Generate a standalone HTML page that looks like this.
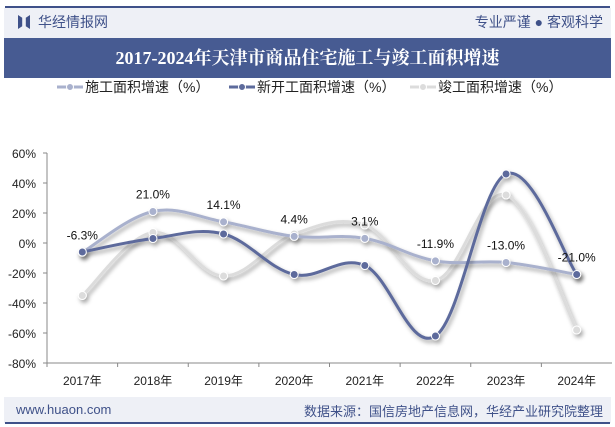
<!DOCTYPE html>
<html><head><meta charset="utf-8"><style>
body{margin:0;width:615px;height:427px;background:#fff;font-family:"Liberation Sans","Noto Sans CJK SC",sans-serif;overflow:hidden;position:relative}
.abs{position:absolute}
</style></head><body>
<div class="abs" style="left:5px;top:6px;width:605px;height:2px;background:#3f5189"></div>
<div class="abs" style="left:4px;top:8px;width:607px;height:30px;background:#eef0f6"></div>
<div class="abs" style="left:18px;top:15px;width:12px;height:14px;background:#3f5189;clip-path:polygon(0 0,35% 20%,35% 80%,0 100%,0 0,100% 0,100% 100%,65% 80%,65% 20%,100% 0)"></div>
<div class="abs" style="left:38px;top:12px;font-size:14px;color:#3f5189">华经情报网</div>
<div class="abs" style="right:12px;top:12px;font-size:14px;color:#3f5189">专业严谨 ● 客观科学</div>
<div class="abs" style="left:4px;top:38px;width:607px;height:40px;background:#475b92;color:#fff;font-family:'Liberation Serif','Noto Serif CJK SC',serif;font-weight:bold;font-size:18px;line-height:40px;text-align:center">2017-2024年天津市商品住宅施工与竣工面积增速</div>
<div class="abs" style="left:4px;top:397px;width:607px;height:26px;background:#eef0f6"></div>
<div class="abs" style="left:16px;top:402px;font-size:13px;color:#3f5189">www.huaon.com</div>
<div class="abs" style="right:12px;top:401px;font-size:13px;color:#3f5189">数据来源：国信房地产信息网，华经产业研究院整理</div>
<div class="abs" style="left:5px;top:422px;width:605px;height:2px;background:#3f5189"></div>
<svg class="abs" style="left:0;top:0" width="615" height="427" id="chart"></svg>
<script>
const categories=["2017年","2018年","2019年","2020年","2021年","2022年","2023年","2024年"];
const shigong=[-6.3,21.0,14.1,4.4,3.1,-11.9,-13.0,-21.0];
const xinkai=[-6,3,6,-21,-15,-62,46,-21];
const jungong=[-35,7,-22,6,12,-25,32,-58];
const shigongLabels=["-6.3%","21.0%","14.1%","4.4%","3.1%","-11.9%","-13.0%","-21.0%"];
const yTicks=[60,40,20,0,-20,-40,-60,-80];
const seriesNames=["施工面积增速（%）","新开工面积增速（%）","竣工面积增速（%）"];
const seriesColors=["#a9b1cd","#5d6b9c","#dcdcdc"];
const NS="http://www.w3.org/2000/svg";
const svg=document.getElementById('chart');
const x0=47,x1=612,yTop=153,yBot=363;
const bw=(x1-x0)/categories.length;
const xS=i=>x0+bw*(i+0.5);
const yS=v=>yTop+(60-v)/140*(yBot-yTop);
function mk(t,a){const e=document.createElementNS(NS,t);for(const k in a)e.setAttribute(k,a[k]);svg.appendChild(e);return e;}
const defs=mk('defs',{});
defs.innerHTML='<filter id="sh" x="-10%" y="-10%" width="120%" height="130%"><feDropShadow dx="2" dy="3" stdDeviation="2" flood-color="#000" flood-opacity="0.35"/></filter>';
yTicks.forEach(t=>{const e=mk('text',{x:36,y:yS(t)+5,'text-anchor':'end','font-size':12,fill:'#222'});e.textContent=t+'%';


mk('line',{x1:x0-4,x2:x0,y1:yS(t),y2:yS(t),stroke:'#888'});});
const ax=mk('line',{x1:x0,x2:x0,y1:yTop,y2:yBot,stroke:'#888'});


const xa=mk('line',{x1:x0,x2:x1,y1:yBot,y2:yBot,stroke:'#888'});


categories.forEach((c,i)=>{mk('line',{x1:x0+bw*i,x2:x0+bw*i,y1:yBot,y2:yBot+4,stroke:'#888'});
const e=mk('text',{x:xS(i),y:yBot+22,'text-anchor':'middle','font-size':12,fill:'#222'});e.textContent=c;

});
function path(vals){const p=vals.map((v,i)=>[xS(i),yS(v)]);let d='M'+p[0];
for(let i=0;i<p.length-1;i++){const a=p[i-1]||p[i],b=p[i],c=p[i+1],e=p[i+2]||c;const t=0.18;
d+=`C${b[0]+(c[0]-a[0])*t},${b[1]+(c[1]-a[1])*t} ${c[0]-(e[0]-b[0])*t},${c[1]-(e[1]-b[1])*t} ${c[0]},${c[1]}`;}return d;}
[[jungong,2],[shigong,0],[xinkai,1]].forEach(([vals,k])=>{
const g=mk('g',{filter:'url(#sh)'});


const pth=document.createElementNS(NS,'path');pth.setAttribute('d',path(vals));pth.setAttribute('fill','none');pth.setAttribute('stroke',seriesColors[k]);pth.setAttribute('stroke-width',3);g.appendChild(pth);
vals.forEach((v,i)=>{const c=document.createElementNS(NS,'circle');c.setAttribute('cx',xS(i));c.setAttribute('cy',yS(v));c.setAttribute('r',4);c.setAttribute('fill',seriesColors[k]);c.setAttribute('stroke','#fff');c.setAttribute('stroke-width',1);


g.appendChild(c);});});
shigong.forEach((v,i)=>{const e=mk('text',{x:xS(i),y:yS(v)-13,'text-anchor':'middle','font-size':12,fill:'#111'});e.textContent=shigongLabels[i];

});
const lx=[57,229,410];
seriesNames.forEach((n,k)=>{mk('line',{x1:lx[k],x2:lx[k]+26,y1:87,y2:87,stroke:seriesColors[k],'stroke-width':3});
mk('circle',{cx:lx[k]+13,cy:87,r:3.5,fill:seriesColors[k],stroke:'#fff'});
const e=mk('text',{x:lx[k]+28,y:92,'font-size':14,fill:'#222'});e.textContent=n;

});
</script>
</body></html>
